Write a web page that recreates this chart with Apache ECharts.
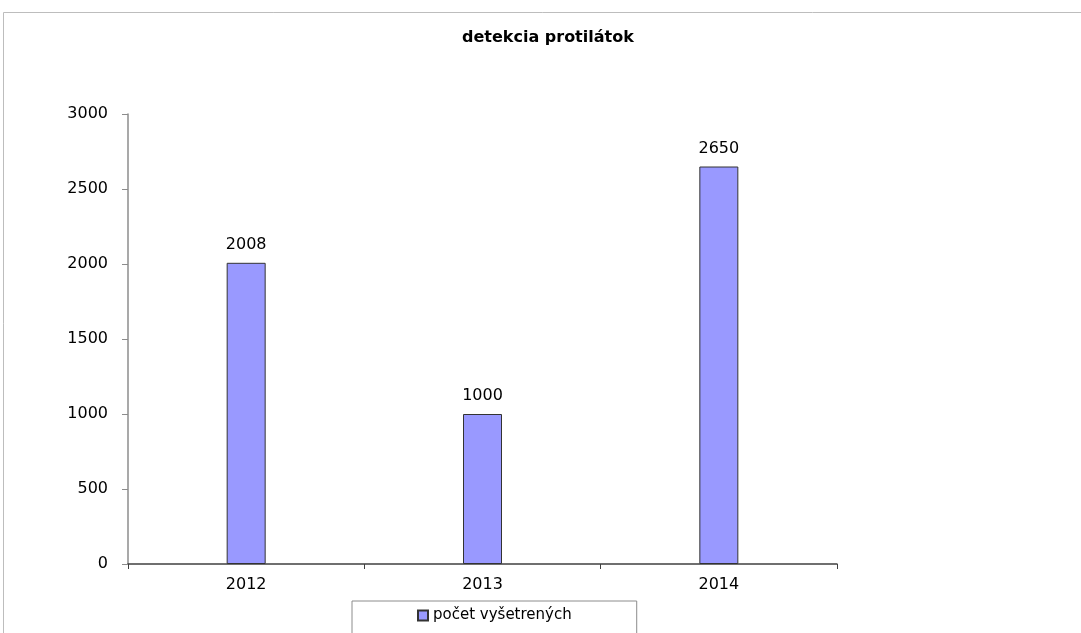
<!DOCTYPE html>
<html>
<head>
<meta charset="utf-8">
<script src="https://cdn.jsdelivr.net/npm/echarts@6/dist/echarts.min.js"></script>
<style>
    html, body { margin: 0; padding: 0; background: #fff; }
    #chart { width: 1081px; height: 633px; }
</style>
</head>
<body>
<div id="chart"></div>
<script>
    // data
    const years = ['2012', '2013', '2014'];
    const counts = [2008, 1000, 2650];
    const seriesName = 'počet vyšetrených';
    const titleText = 'detekcia protilátok';

    const chart = echarts.init(document.getElementById('chart'));
    const font = 'DejaVu Sans, Verdana, sans-serif';

    chart.setOption({
        animation: false,
        backgroundColor: '#fff',
        textStyle: { fontFamily: font },
        title: {
            text: titleText,
            left: 462,
            top: 30,
            padding: 0,
            textStyle: { fontSize: 16, fontWeight: 'bold', color: '#000', fontFamily: font }
        },
        // light frame round the whole chart area
        graphic: [{
            type: 'rect',
            shape: { x: 3.5, y: 12.5, width: 1200, height: 800 },
            style: { fill: 'none', stroke: '#bdbdbd', lineWidth: 1 },
            silent: true
        }],
        grid: { left: 128, right: 244, top: 114, bottom: 69, containLabel: false },
        legend: {
            data: [seriesName],
            left: 352,
            top: 601,
            padding: [7, 65, 14, 65],
            borderColor: '#8c8c8c',
            borderWidth: 1,
            itemWidth: 10,
            itemHeight: 10,
            itemGap: 4,
            icon: 'rect',
            textStyle: { fontSize: 15, color: '#000', fontFamily: font }
        },
        xAxis: {
            type: 'category',
            data: years,
            axisLine: { lineStyle: { color: '#404040', width: 1.5 } },
            axisTick: { show: true, alignWithLabel: false, length: 5, lineStyle: { color: '#404040' } },
            axisLabel: { fontSize: 16, color: '#000', margin: 13 }
        },
        yAxis: {
            type: 'value',
            min: 0,
            max: 3000,
            interval: 500,
            axisLine: { show: true, lineStyle: { color: '#8c8c8c', width: 1.5 } },
            axisTick: { show: true, length: 6, lineStyle: { color: '#8c8c8c' } },
            axisLabel: { fontSize: 16, color: '#000', margin: 20, formatter: v => String(v) },
            splitLine: { show: false }
        },
        series: [{
            name: seriesName,
            type: 'bar',
            data: counts,
            barWidth: 39,
            itemStyle: { color: '#9999ff', borderColor: '#333', borderWidth: 1 },
            label: { show: true, position: 'top', distance: 10, fontSize: 16, color: '#000' }
        }]
    });
</script>
</body>
</html>
